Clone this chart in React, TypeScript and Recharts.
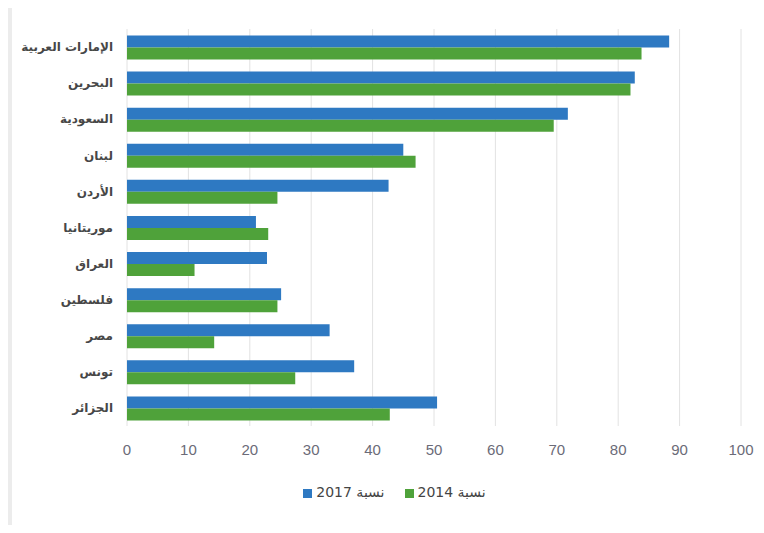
import { BarChart, Bar, XAxis, YAxis, CartesianGrid, Legend } from 'recharts';

const countries = [
  'الإمارات العربية',
  'البحرين',
  'السعودية',
  'لبنان',
  'الأردن',
  'موريتانيا',
  'العراق',
  'فلسطين',
  'مصر',
  'تونس',
  'الجزائر',
];

const share2017 = [88.3, 82.7, 71.8, 45.0, 42.6, 21.0, 22.8, 25.1, 33.0, 37.0, 50.5];
const share2014 = [83.8, 82.0, 69.5, 47.0, 24.5, 23.0, 11.0, 24.5, 14.2, 27.4, 42.8];

const xTicks = [0, 10, 20, 30, 40, 50, 60, 70, 80, 90, 100];

const chartData = countries.map((name, i) => ({
  name,
  v2017: share2017[i],
  v2014: share2014[i],
}));

// keep legend in bar order (2017 first), not alphabetical
const legendOrder = (item: any) => (item.dataKey === 'v2017' ? 0 : 1);

export default function App() {
  return (
    <div style={{ margin: -8, width: 764, height: 533, background: '#ececec', position: 'relative' }}>
      <div
        style={{
          position: 'absolute',
          left: 12,
          top: 7,
          width: 752,
          height: 521,
          background: '#fff',
        }}
      />
      <div style={{ position: 'absolute', left: 0, top: 0 }}>
        <BarChart
          width={764}
          height={533}
          data={chartData}
          layout="vertical"
          margin={{ top: 29, right: 23, left: 0, bottom: 0 }}
          barCategoryGap="18%"
          barGap={0}
        >
          <CartesianGrid horizontal={false} stroke="#e2e2e2" />
          <XAxis
            type="number"
            domain={[0, 100]}
            ticks={xTicks}
            axisLine={false}
            tickLine={false}
            tickMargin={12}
            height={91}
            tick={{ fontSize: 15, fill: '#6b6b78', fontFamily: 'Liberation Sans Narrow, Liberation Sans, sans-serif' }}
          />
          <YAxis
            type="category"
            dataKey="name"
            width={127}
            axisLine={false}
            tickLine={false}
            tickMargin={8}
            tick={{ fontSize: 12, fill: '#474747', fontFamily: 'DejaVu Sans, sans-serif', fontWeight: 'bold' }}
          />
          <Legend
            verticalAlign="bottom"
            iconType="square"
            iconSize={9}
            itemSorter={legendOrder}
            wrapperStyle={{ top: 484, left: 34, fontSize: 14, fontFamily: 'DejaVu Sans, sans-serif' }}
            formatter={(value) => <span style={{ color: '#444', paddingRight: 10 }}>{value}</span>}
          />
          <Bar dataKey="v2017" name="نسبة 2017" fill="#2e79c2" isAnimationActive={false} />
          <Bar dataKey="v2014" name="نسبة 2014" fill="#4fa23a" isAnimationActive={false} />
        </BarChart>
      </div>
    </div>
  );
}
